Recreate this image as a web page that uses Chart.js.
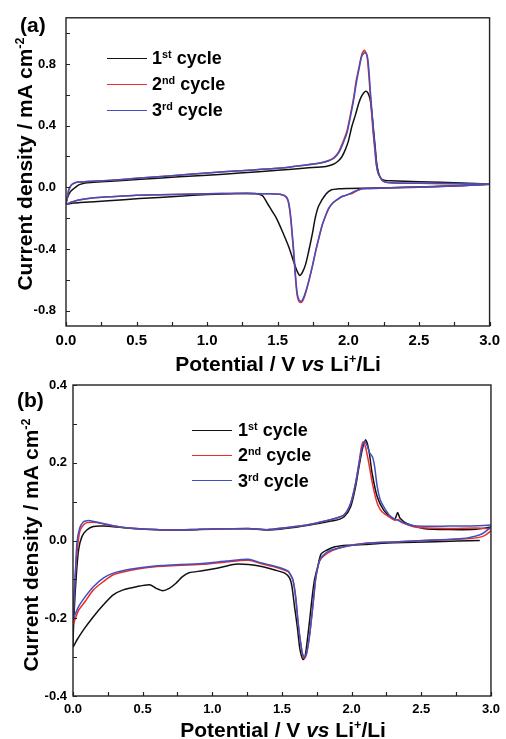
<!DOCTYPE html>
<html><head><meta charset="utf-8">
<script src="https://cdn.jsdelivr.net/npm/chart.js@4.4.1/dist/chart.umd.min.js"></script>
<style>
body{margin:0;background:#fff;}
#wrap{position:relative;width:506px;height:739px;overflow:hidden;font-family:"Liberation Sans",Arial,sans-serif;font-weight:bold;color:#000;}
canvas{position:absolute;left:0;}
.t{position:absolute;white-space:nowrap;font-size:21px;line-height:21px;}
.yt{transform:translate(-50%,-50%) rotate(-90deg);}
.xt{transform:translate(-50%,-50%);}
sup{font-size:0.6em;line-height:0;vertical-align:0;position:relative;top:-0.6em;}
.leg{position:absolute;font-size:18px;line-height:20px;white-space:nowrap;}
.ln{position:absolute;height:0;width:40px;border-top:1.5px solid;}
</style></head>
<body><div id="wrap">
<canvas id="ca" width="506" height="370" style="top:0"></canvas>
<canvas id="cb" width="506" height="369" style="top:370px"></canvas>

<div class="t" style="left:20px;top:14px">(a)</div>
<div class="t yt" style="left:24px;top:164px">Current density / mA cm<sup>-2</sup></div>
<div class="t xt" style="left:278px;top:363px">Potential / V <i>vs</i> Li<sup>+</sup>/Li</div>
<div class="ln" style="left:107px;top:57.5px;border-color:#111"></div>
<div class="ln" style="left:107px;top:83.5px;border-color:#ee2b2b"></div>
<div class="ln" style="left:107px;top:109.5px;border-color:#3f51c0"></div>
<div class="leg" style="left:152px;top:48px">1<sup>st</sup> cycle</div>
<div class="leg" style="left:152px;top:74px">2<sup>nd</sup> cycle</div>
<div class="leg" style="left:152px;top:100px">3<sup>rd</sup> cycle</div>

<div class="t" style="left:17px;top:389px">(b)</div>
<div class="t yt" style="left:30px;top:545px">Current density / mA cm<sup>-2</sup></div>
<div class="t xt" style="left:283px;top:729px">Potential / V <i>vs</i> Li<sup>+</sup>/Li</div>
<div class="ln" style="left:192px;top:429.5px;border-color:#111"></div>
<div class="ln" style="left:192px;top:454.5px;border-color:#ee2b2b"></div>
<div class="ln" style="left:192px;top:480px;border-color:#3f51c0"></div>
<div class="leg" style="left:238px;top:420px">1<sup>st</sup> cycle</div>
<div class="leg" style="left:238px;top:445px">2<sup>nd</sup> cycle</div>
<div class="leg" style="left:238px;top:471px">3<sup>rd</sup> cycle</div>
</div>
<script>
// ---------- Panel (a) data: potential (V) and current density (mA cm-2) ----------
const aV1 = [3.00,2.70,2.40,2.20,2.00,1.93,1.88,1.84,1.79,1.765,1.744,1.72,1.697,1.675,1.655,1.635,1.615,1.58,1.532,1.49,1.462,1.43,1.392,1.35,1.20,1.00,0.80,0.52,0.30,0.10,0.05,0.00,
             0.01,0.03,0.054,0.08,0.10,0.148,0.25,0.50,0.80,1.00,1.23,1.50,1.70,1.84,1.861,1.90,1.93,1.955,1.979,2.00,2.025,2.05,2.073,2.09,2.108,2.125,2.14,2.155,2.167,2.178,2.19,2.20,2.212,2.225,2.24,2.26,2.30,2.50,2.80,3.00];
const aI1 = [0.020,0.008,0.000,-0.004,-0.008,-0.010,-0.016,-0.045,-0.120,-0.200,-0.306,-0.410,-0.500,-0.550,-0.572,-0.540,-0.490,-0.392,-0.285,-0.200,-0.158,-0.110,-0.055,-0.041,-0.040,-0.047,-0.058,-0.073,-0.088,-0.099,-0.102,-0.108,
             -0.070,-0.030,-0.009,0.010,0.019,0.030,0.036,0.050,0.068,0.078,0.093,0.110,0.125,0.135,0.140,0.152,0.172,0.200,0.246,0.300,0.396,0.470,0.544,0.585,0.612,0.623,0.610,0.566,0.480,0.374,0.260,0.161,0.100,0.066,0.050,0.045,0.042,0.036,0.028,0.020];
const aV2 = [3.00,2.80,2.50,2.30,2.15,2.10,2.06,2.025,2.00,1.955,1.93,1.89,1.86,1.84,1.815,1.79,1.768,1.745,1.72,1.70,1.685,1.672,1.660,1.648,1.636,1.626,1.618,1.608,1.601,1.593,1.583,1.573,1.558,1.53,1.45,1.20,1.00,0.50,0.30,0.20,0.10,0.04,0.00,
             0.01,0.018,0.03,0.042,0.065,0.089,0.15,0.30,0.50,0.75,1.00,1.23,1.50,1.70,1.80,1.861,1.90,1.932,1.96,1.99,2.015,2.037,2.055,2.073,2.096,2.113,2.13,2.142,2.152,2.163,2.175,2.187,2.197,2.21,2.225,2.24,2.26,2.30,2.50,2.80,3.00];
const aI2 = [0.020,0.010,0.000,-0.003,-0.008,-0.010,-0.022,-0.040,-0.046,-0.060,-0.075,-0.102,-0.140,-0.183,-0.246,-0.334,-0.418,-0.515,-0.610,-0.678,-0.720,-0.743,-0.748,-0.738,-0.695,-0.600,-0.500,-0.380,-0.306,-0.220,-0.140,-0.090,-0.062,-0.048,-0.042,-0.040,-0.042,-0.051,-0.062,-0.068,-0.080,-0.095,-0.108,
             -0.065,-0.025,0.003,0.018,0.030,0.034,0.037,0.045,0.058,0.075,0.093,0.108,0.123,0.145,0.158,0.174,0.195,0.232,0.290,0.365,0.475,0.580,0.690,0.770,0.865,0.889,0.860,0.760,0.640,0.500,0.360,0.245,0.150,0.092,0.066,0.045,0.035,0.030,0.026,0.023,0.020];
const aV3 = [3.00,2.80,2.50,2.30,2.15,2.10,2.06,2.025,1.99,1.955,1.93,1.89,1.86,1.84,1.815,1.79,1.768,1.745,1.72,1.70,1.685,1.672,1.662,1.650,1.638,1.628,1.620,1.610,1.603,1.595,1.585,1.575,1.560,1.53,1.45,1.20,1.00,0.50,0.30,0.20,0.10,0.04,0.00,
             0.01,0.018,0.03,0.042,0.065,0.089,0.15,0.30,0.50,0.75,1.00,1.23,1.50,1.70,1.80,1.861,1.90,1.932,1.96,1.99,2.015,2.037,2.055,2.073,2.096,2.120,2.136,2.147,2.155,2.167,2.178,2.19,2.20,2.212,2.225,2.24,2.26,2.30,2.50,2.80,3.00];
const aI3 = [0.020,0.010,0.000,-0.003,-0.008,-0.010,-0.020,-0.035,-0.050,-0.060,-0.073,-0.100,-0.137,-0.180,-0.243,-0.330,-0.413,-0.510,-0.604,-0.670,-0.711,-0.735,-0.740,-0.730,-0.690,-0.600,-0.500,-0.380,-0.306,-0.220,-0.140,-0.090,-0.062,-0.048,-0.042,-0.040,-0.042,-0.051,-0.062,-0.068,-0.080,-0.095,-0.108,
             -0.060,-0.019,0.005,0.019,0.030,0.034,0.037,0.045,0.058,0.075,0.093,0.108,0.123,0.145,0.158,0.172,0.190,0.225,0.280,0.353,0.460,0.565,0.670,0.757,0.853,0.874,0.842,0.740,0.630,0.490,0.353,0.240,0.140,0.090,0.066,0.045,0.035,0.030,0.026,0.023,0.020];

// ---------- Panel (b) data ----------
const bV1 = [2.92,2.60,2.30,2.10,1.97,1.88,1.82,1.78,1.757,1.745,1.733,1.72,1.709,1.697,1.685,1.672,1.662,1.650,1.638,1.626,1.61,1.59,1.572,1.555,1.52,1.449,1.354,1.26,1.165,1.023,0.928,0.833,0.786,0.739,0.691,0.644,0.597,0.549,0.455,0.36,0.289,0.217,0.146,0.075,0.028,0.00,
             0.009,0.023,0.04,0.064,0.099,0.146,0.217,0.336,0.455,0.644,0.90,1.10,1.26,1.40,1.60,1.75,1.85,1.898,1.946,1.993,2.028,2.053,2.076,2.10,2.123,2.147,2.183,2.23,2.277,2.301,2.315,2.33,2.348,2.395,2.514,2.703,2.893,3.00];
const bI1 = [0.000,-0.003,-0.006,-0.010,-0.012,-0.016,-0.025,-0.035,-0.067,-0.083,-0.102,-0.135,-0.170,-0.210,-0.247,-0.285,-0.303,-0.306,-0.295,-0.273,-0.222,-0.170,-0.119,-0.097,-0.084,-0.076,-0.067,-0.062,-0.061,-0.072,-0.078,-0.083,-0.093,-0.110,-0.123,-0.129,-0.123,-0.114,-0.119,-0.127,-0.140,-0.166,-0.196,-0.230,-0.256,-0.273,
             -0.179,-0.093,-0.024,0.010,0.027,0.036,0.037,0.034,0.030,0.027,0.028,0.030,0.030,0.027,0.034,0.043,0.050,0.053,0.061,0.087,0.138,0.190,0.233,0.259,0.233,0.173,0.113,0.078,0.061,0.055,0.058,0.072,0.057,0.044,0.031,0.028,0.029,0.035];
const bV2 = [3.00,2.95,2.85,2.60,2.30,2.10,1.946,1.86,1.80,1.768,1.744,1.733,1.721,1.709,1.697,1.68,1.668,1.657,1.645,1.638,1.625,1.614,1.598,1.579,1.56,1.543,1.449,1.354,1.26,1.10,0.928,0.573,0.407,0.289,0.217,0.146,0.087,0.04,0.004,0.00,
             0.008,0.018,0.028,0.04,0.052,0.075,0.099,0.17,0.25,0.336,0.455,0.691,0.928,1.26,1.40,1.60,1.733,1.886,1.946,1.993,2.028,2.053,2.07,2.083,2.10,2.12,2.135,2.15,2.17,2.19,2.218,2.28,2.31,2.335,2.36,2.467,2.703,2.90,3.00];
const bI2 = [0.025,0.012,0.005,0.001,-0.004,-0.007,-0.016,-0.026,-0.040,-0.054,-0.093,-0.130,-0.170,-0.210,-0.247,-0.285,-0.300,-0.302,-0.290,-0.273,-0.240,-0.205,-0.145,-0.102,-0.088,-0.080,-0.068,-0.060,-0.051,-0.055,-0.061,-0.068,-0.077,-0.088,-0.106,-0.127,-0.157,-0.180,-0.213,-0.215,
             -0.140,-0.080,-0.033,0.005,0.027,0.040,0.046,0.046,0.040,0.035,0.031,0.027,0.029,0.031,0.028,0.036,0.044,0.057,0.066,0.096,0.147,0.199,0.240,0.254,0.240,0.205,0.175,0.145,0.113,0.090,0.074,0.058,0.052,0.054,0.046,0.034,0.031,0.032,0.030];
const bV3 = [3.00,2.95,2.916,2.822,2.585,2.30,2.111,1.946,1.86,1.827,1.79,1.768,1.744,1.733,1.721,1.709,1.697,1.68,1.668,1.657,1.645,1.638,1.625,1.614,1.598,1.579,1.56,1.543,1.449,1.354,1.26,1.10,0.928,0.573,0.407,0.289,0.217,0.146,0.087,0.04,0.004,0.00,
             0.008,0.016,0.028,0.047,0.075,0.10,0.123,0.217,0.336,0.455,0.691,0.928,1.26,1.40,1.60,1.733,1.886,1.946,1.993,2.028,2.053,2.076,2.093,2.11,2.13,2.15,2.165,2.183,2.205,2.23,2.27,2.301,2.337,2.40,2.467,2.703,2.90,3.00];
const bI3 = [0.035,0.020,0.014,0.006,0.001,-0.004,-0.007,-0.016,-0.024,-0.029,-0.040,-0.054,-0.093,-0.125,-0.170,-0.210,-0.247,-0.285,-0.298,-0.300,-0.288,-0.273,-0.240,-0.205,-0.145,-0.102,-0.087,-0.078,-0.066,-0.058,-0.048,-0.053,-0.059,-0.066,-0.074,-0.084,-0.097,-0.119,-0.145,-0.170,-0.200,-0.203,
             -0.150,-0.093,-0.007,0.031,0.048,0.051,0.051,0.044,0.035,0.031,0.027,0.029,0.031,0.028,0.036,0.044,0.057,0.066,0.096,0.147,0.199,0.241,0.254,0.245,0.225,0.215,0.190,0.140,0.105,0.087,0.065,0.057,0.051,0.042,0.037,0.037,0.038,0.040];

// ---------- Axes ticks ----------
const aXTicks = [0,0.25,0.5,0.75,1,1.25,1.5,1.75,2,2.25,2.5,2.75,3];
const aYTicks = [-0.8,-0.6,-0.4,-0.2,0,0.2,0.4,0.6,0.8,1.0];
const bXTicks = [0,0.25,0.5,0.75,1,1.25,1.5,1.75,2,2.25,2.5,2.75,3];
const bYTicks = [-0.4,-0.3,-0.2,-0.1,0,0.1,0.2,0.3,0.4];
const seriesNames = ['1st cycle','2nd cycle','3rd cycle'];
const seriesColors = ['#111111','#ee2b2b','#3f51c0'];

const toPts = (vs, is) => vs.map((v, i) => ({x: v, y: is[i]}));

const frameTicks = {
  id: 'frameTicks',
  afterDatasetsDraw(chart, args, opts) {
    const {ctx, chartArea: a, scales: {x, y}} = chart;
    ctx.save();
    ctx.strokeStyle = '#222';
    ctx.lineWidth = 1.4;
    ctx.strokeRect(a.left, a.top, a.right - a.left, a.bottom - a.top);
    ctx.beginPath();
    x.ticks.forEach(t => { const p = Math.round(x.getPixelForValue(t.value)) + 0.5; ctx.moveTo(p, a.bottom); ctx.lineTo(p, a.bottom - opts.len); });
    y.ticks.forEach(t => { const p = Math.round(y.getPixelForValue(t.value)) + 0.5; ctx.moveTo(a.left, p); ctx.lineTo(a.left + opts.len, p); });
    ctx.lineWidth = 1.2;
    ctx.stroke();
    ctx.restore();
  }
};

function labelEvery(step) {
  return v => (Math.abs(v / step - Math.round(v / step)) < 1e-6) ? v.toFixed(1) : '';
}

function makeChart(id, V, I, xTicks, yTicks, xStep, yStep, yMin, yMax, lay) {
  const datasets = [0, 1, 2].map(k => ({
    label: seriesNames[k],
    data: toPts(V[k], I[k]),
    borderColor: seriesColors[k],
    backgroundColor: seriesColors[k],
    borderWidth: 1.5,
    pointRadius: 0,
    showLine: true,
    tension: 0.25,
    order: 3 - k
  }));
  return new Chart(document.getElementById(id), {
    type: 'scatter',
    data: {datasets},
    plugins: [frameTicks],
    options: {
      responsive: false,
      animation: false,
      devicePixelRatio: 1,
      layout: {padding: {left: 0, top: lay.top, right: lay.right, bottom: 0}},
      plugins: {legend: {display: false}, tooltip: {enabled: false}, frameTicks: {len: 4}},
      scales: {
        x: {
          type: 'linear', min: 0, max: 3,
          grid: {display: false, drawTicks: false},
          border: {display: false},
          afterBuildTicks: s => { s.ticks = xTicks.map(v => ({value: v})); },
          afterFit: s => { s.height = lay.xh; },
          ticks: {autoSkip: false, maxRotation: 0, padding: lay.xpad, color: '#000',
                  font: {family: 'Liberation Sans', weight: 'bold', size: lay.xfs},
                  callback: labelEvery(xStep)}
        },
        y: {
          type: 'linear', min: yMin, max: yMax,
          grid: {display: false, drawTicks: false},
          border: {display: false},
          afterBuildTicks: s => { s.ticks = yTicks.map(v => ({value: v})); },
          afterFit: s => { s.width = lay.yw; },
          ticks: {autoSkip: false, padding: lay.ypad, color: '#000',
                  font: {family: 'Liberation Sans', weight: 'bold', size: lay.yfs},
                  callback: labelEvery(yStep)}
        }
      }
    }
  });
}

makeChart('ca', [aV1, aV2, aV3], [aI1, aI2, aI3], aXTicks, aYTicks, 0.5, 0.4, -0.9, 1.1,
          {top: 13, right: 14, xh: 44, yw: 66, xpad: 6, ypad: 10, xfs: 15, yfs: 13});
makeChart('cb', [bV1, bV2, bV3], [bI1, bI2, bI3], bXTicks, bYTicks, 0.5, 0.2, -0.4, 0.4,
          {top: 15, right: 11, xh: 43, yw: 73, xpad: 6, ypad: 6, xfs: 13, yfs: 13});
</script>
</body></html>
